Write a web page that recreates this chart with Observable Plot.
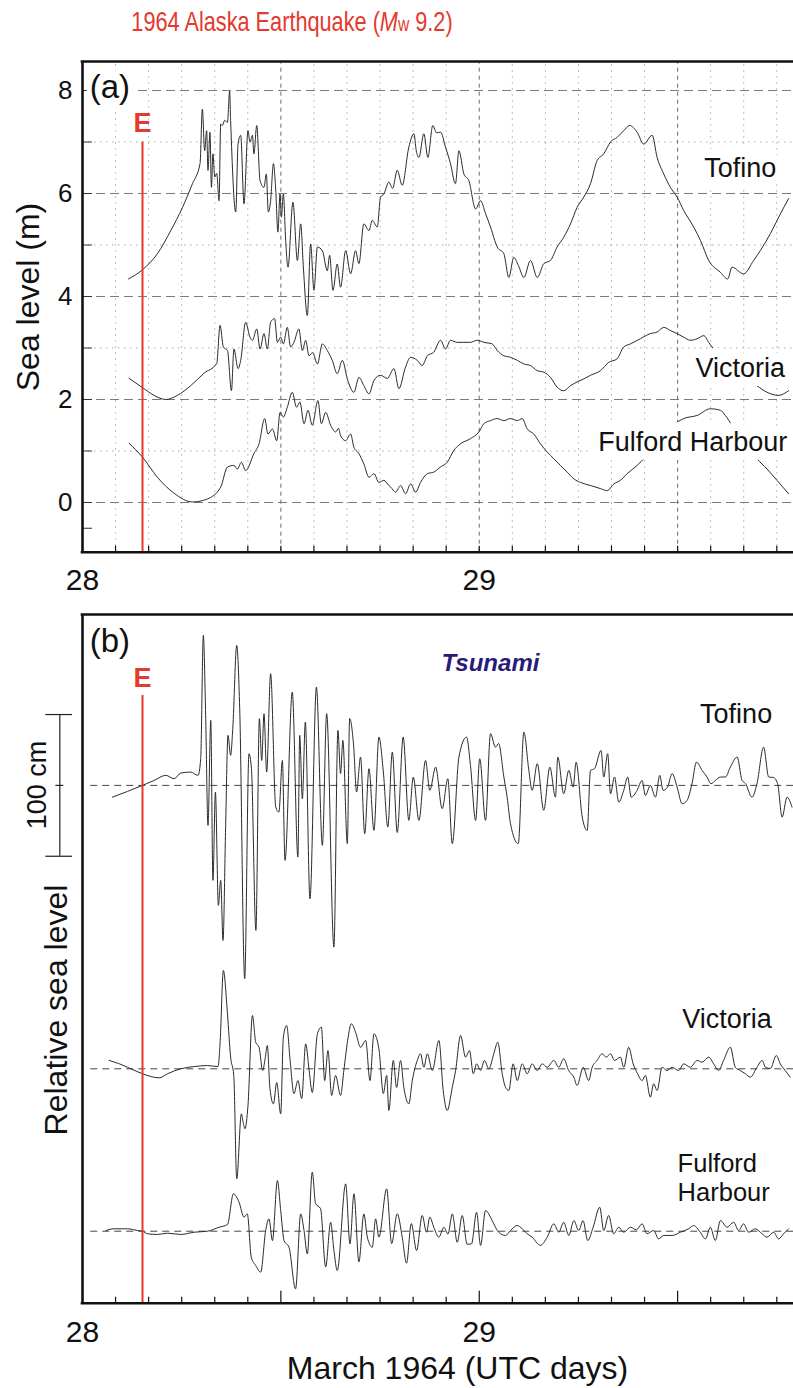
<!DOCTYPE html>
<html><head><meta charset="utf-8">
<script src="https://cdn.jsdelivr.net/npm/d3@7"></script>
<script src="https://cdn.jsdelivr.net/npm/@observablehq/plot@0.6"></script>
<style>
html,body{margin:0;padding:0;background:#fff;overflow:hidden}
#root{position:relative;width:793px;height:1388px;font-family:"Liberation Sans",Arial,Helvetica,sans-serif;color:#111}
.abs{position:absolute;white-space:nowrap}
.rot{transform:translate(-50%,-50%) rotate(-90deg)}
.ctr{transform:translate(-50%,-50%)}
</style></head><body><div id="root"></div>
<script>
// ---------- DATA (time in hours after 28 March 1964 00:00 UTC) ----------
const dayTicks = [0, 24];
const dayLabels = ["28", "29"];
const quakeHour = 3.63;            // E : earthquake time
const stations = ["Tofino", "Victoria", "Fulford Harbour"];

// (a) sea level, metres
const tofinoA = [[2.78,4.34],[3.63,4.52],[4.53,4.83],[5.34,5.28],[6.05,5.73],[6.65,6.19],[7.11,6.58],[7.25,7.64],[7.39,6.83],[7.51,7.22],[7.59,6.45],[7.71,7.19],[7.80,6.12],[7.89,6.77],[8.00,6.32],[8.12,6.39],[8.26,5.86],[8.36,7.35],[8.46,7.32],[8.60,7.42],[8.77,7.38],[8.90,7.99],[8.96,7.42],[9.27,5.64],[9.41,6.96],[9.57,7.13],[9.77,5.80],[10.01,7.22],[10.13,7.00],[10.28,7.13],[10.37,6.77],[10.54,7.32],[10.74,6.25],[10.98,6.12],[11.12,6.38],[11.24,5.64],[11.38,5.86],[11.55,6.58],[11.69,6.06],[11.82,5.25],[11.95,5.99],[12.03,5.54],[12.15,5.99],[12.29,5.09],[12.43,4.57],[12.73,5.83],[13.00,4.70],[13.20,5.41],[13.36,4.57],[13.60,3.63],[13.80,5.02],[14.00,4.12],[14.21,4.96],[14.51,4.89],[14.81,4.50],[14.95,4.80],[15.15,4.12],[15.41,4.63],[15.61,4.18],[15.92,4.89],[16.22,4.44],[16.52,4.89],[16.72,4.64],[17.02,5.41],[17.33,5.28],[17.53,5.48],[17.83,5.35],[18.03,5.93],[18.23,5.99],[18.53,6.22],[18.76,6.10],[19.04,6.45],[19.34,6.16],[19.74,6.90],[20.05,7.16],[20.19,6.83],[20.35,6.70],[20.65,7.16],[20.89,6.70],[21.19,7.32],[21.42,7.18],[21.66,7.19],[21.96,6.90],[22.26,6.58],[22.56,6.19],[22.77,6.83],[23.07,6.38],[23.37,6.25],[23.78,5.70],[24.08,5.86],[24.38,5.61],[24.68,5.35],[25.09,4.96],[25.49,4.83],[25.79,4.37],[26.09,4.76],[26.37,4.60],[26.70,4.37],[27.10,4.70],[27.51,4.37],[27.91,4.64],[28.31,4.70],[28.71,4.96],[29.11,5.15],[29.52,5.41],[29.92,5.73],[30.32,5.93],[30.73,6.19],[31.13,6.64],[31.53,6.77],[31.94,7.00],[32.34,7.09],[32.74,7.22],[33.10,7.32],[33.55,7.19],[33.95,6.96],[34.46,7.13],[34.76,6.70],[35.16,6.38],[35.56,6.12],[35.97,5.93],[36.37,5.67],[36.97,5.35],[37.38,5.09],[37.88,4.70],[38.59,4.47],[39.03,4.34],[39.29,4.57],[39.99,4.44],[40.60,4.70],[41.00,4.89],[41.61,5.22],[42.21,5.60],[42.71,5.90]];

const victoriaA = [[2.82,2.41],[3.63,2.23],[4.33,2.08],[5.04,2.00],[5.74,2.08],[6.55,2.27],[7.35,2.51],[8.12,2.70],[8.32,3.44],[8.52,3.02],[8.77,2.95],[9.01,2.17],[9.16,2.98],[9.41,2.60],[9.57,2.76],[9.87,3.50],[10.13,3.21],[10.28,3.15],[10.54,3.37],[10.74,2.98],[10.98,3.28],[11.18,2.98],[11.38,3.50],[11.62,3.57],[11.79,3.11],[11.99,3.21],[12.15,3.08],[12.39,3.40],[12.59,3.02],[12.79,3.11],[13.09,3.37],[13.30,2.95],[13.50,3.15],[13.70,2.85],[13.92,2.91],[14.21,2.69],[14.51,3.08],[14.81,2.95],[15.11,2.76],[15.41,2.50],[15.72,2.76],[16.02,2.40],[16.42,2.14],[16.72,2.43],[17.02,2.27],[17.33,2.11],[17.63,2.37],[18.03,2.47],[18.44,2.41],[18.84,2.60],[19.14,2.21],[19.54,2.63],[19.85,2.82],[20.25,2.76],[20.55,2.66],[20.86,2.85],[21.25,2.92],[21.66,3.15],[21.96,2.98],[22.26,3.15],[22.67,3.11],[23.07,3.11],[23.47,3.11],[23.88,3.15],[24.28,3.11],[24.78,3.08],[25.09,2.95],[25.49,2.85],[25.89,2.82],[26.30,2.76],[26.70,2.69],[27.10,2.66],[27.51,2.56],[27.91,2.53],[28.31,2.43],[28.71,2.24],[29.11,2.17],[29.52,2.27],[29.92,2.34],[30.32,2.40],[30.73,2.47],[31.33,2.56],[31.83,2.72],[32.34,2.79],[32.74,3.02],[33.15,3.08],[33.75,3.18],[34.35,3.28],[34.76,3.31],[35.16,3.40],[35.56,3.34],[35.97,3.28],[36.37,3.21],[36.77,3.15],[37.18,3.18],[37.58,3.24],[37.88,3.11],[38.18,2.98],[38.59,2.89],[39.70,2.60],[40.80,2.27],[41.41,2.14],[42.11,2.08],[42.71,2.17]];

const fulfordA = [[2.82,1.15],[3.63,0.88],[4.53,0.49],[5.54,0.18],[6.65,0.01],[7.56,0.07],[8.36,0.30],[8.77,0.69],[9.16,0.72],[9.37,0.65],[9.61,0.78],[9.87,0.62],[10.37,0.95],[10.68,1.14],[11.02,1.63],[11.22,1.33],[11.49,1.43],[11.75,1.20],[11.95,1.75],[12.15,1.66],[12.39,1.85],[12.69,2.14],[12.95,1.85],[13.15,1.95],[13.40,1.53],[13.64,1.79],[13.90,1.50],[14.24,1.98],[14.45,1.53],[14.71,1.75],[15.01,1.50],[15.31,1.37],[15.49,1.44],[15.61,1.30],[15.92,1.20],[16.22,1.33],[16.42,1.07],[16.72,0.95],[17.02,0.75],[17.33,0.49],[17.63,0.56],[17.93,0.39],[18.23,0.43],[18.53,0.33],[18.64,0.30],[18.94,0.20],[19.24,0.33],[19.54,0.17],[19.85,0.36],[20.15,0.20],[20.45,0.39],[20.86,0.56],[21.25,0.59],[21.66,0.69],[22.06,0.78],[22.46,1.01],[22.87,1.14],[23.47,1.24],[23.98,1.37],[24.28,1.53],[24.68,1.59],[25.09,1.63],[25.49,1.59],[25.89,1.63],[26.30,1.59],[26.60,1.63],[26.90,1.43],[27.30,1.33],[27.70,1.14],[28.11,0.98],[28.51,0.85],[28.91,0.72],[29.32,0.59],[29.72,0.46],[30.12,0.39],[30.73,0.33],[31.33,0.27],[31.74,0.23],[32.14,0.36],[32.54,0.43],[32.95,0.56],[33.55,0.72],[34.05,0.88],[34.96,1.20],[35.73,1.50],[36.37,1.63],[37.18,1.69],[37.98,1.82],[38.59,1.79],[38.89,1.69],[39.29,1.50],[40.10,1.17],[40.80,0.85],[41.41,0.65],[42.01,0.43],[42.71,0.17]];

// (b) tsunami signal, cm relative to each station's baseline
const tofinoB = [[1.81,-8.3],[3.63,0],[4.33,3.5],[5.04,7.1],[5.54,4.7],[5.94,8.7],[6.55,9.4],[6.99,7.1],[7.15,18.8],[7.31,105.9],[7.45,49.4],[7.59,-28.2],[7.76,45.9],[7.89,-67.0],[8.04,-4.7],[8.22,-84.7],[8.36,-67.0],[8.50,-109.4],[8.66,-28.2],[8.80,35.3],[8.96,21.2],[9.09,40.0],[9.33,98.8],[9.51,54.1],[9.81,-136.4],[10.07,22.4],[10.22,11.8],[10.49,-102.3],[10.70,47.1],[10.84,17.6],[10.98,50.6],[11.14,9.4],[11.38,78.8],[11.69,-15.3],[11.88,-18.8],[12.09,17.6],[12.25,-52.9],[12.69,65.8],[13.03,-50.6],[13.14,35.3],[13.30,-9.4],[13.48,44.7],[13.76,-80.0],[14.15,69.4],[14.51,-42.3],[14.77,50.6],[15.21,-114.1],[15.45,38.8],[15.61,8.3],[15.75,31.8],[16.02,-41.1],[16.16,47.1],[16.40,28.2],[16.58,-4.7],[16.82,20.0],[17.07,-34.1],[17.33,11.8],[17.63,-31.8],[17.93,34.1],[18.20,9.4],[18.47,-29.4],[18.74,23.5],[19.04,-33.2],[19.40,34.1],[19.74,-24.7],[20.01,5.9],[20.35,-24.7],[20.75,17.6],[21.01,-3.5],[21.36,12.9],[21.76,-16.4],[22.10,4.7],[22.37,-41.1],[22.77,20.0],[23.23,34.1],[23.47,14.1],[23.78,-24.7],[24.03,18.8],[24.38,-24.7],[24.68,36.5],[24.98,27.0],[25.17,29.6],[25.49,5.9],[25.69,-8.5],[25.89,-27.0],[26.36,-41.1],[26.70,37.6],[27.00,10.6],[27.20,-3.5],[27.51,15.3],[27.90,-17.6],[28.27,12.9],[28.61,-8.3],[28.75,20.0],[29.11,-5.9],[29.42,10.6],[29.68,-1.2],[29.86,16.4],[30.23,-22.4],[30.53,-31.8],[30.73,10.6],[30.97,11.8],[31.37,24.7],[31.53,5.9],[31.77,22.4],[31.94,-5.9],[32.18,5.9],[32.44,-11.8],[32.74,-3.5],[32.98,5.9],[33.19,-8.3],[33.55,-3.5],[33.85,3.5],[34.05,-7.1],[34.35,0],[34.66,-8.3],[34.92,7.1],[35.12,-3.5],[35.38,-1.4],[35.67,8.3],[35.97,-1.2],[36.27,-12.9],[36.57,-10.6],[36.87,1.2],[37.14,16.4],[37.48,10.6],[37.78,5.9],[38.02,1.2],[38.28,3.5],[38.59,5.9],[38.89,5.9],[39.19,12.9],[39.60,20.0],[39.90,3.5],[40.10,1.4],[40.50,-8.3],[40.80,1.2],[41.20,27.0],[41.51,5.9],[41.79,5.6],[42.05,1.2],[42.32,-22.4],[42.62,-8.3],[42.92,-15.3]];

const victoriaB = [[1.61,5.9],[2.19,3.7],[2.72,1.1],[3.63,-3.5],[4.13,-5.4],[4.63,-6.4],[5.14,-3.5],[5.94,0],[6.75,1.6],[7.56,2.3],[8.20,1.6],[8.33,20.0],[8.52,69.4],[8.77,38.8],[8.96,8.2],[9.15,-4.7],[9.33,-77.6],[9.61,-31.8],[9.72,-37.9],[9.83,-42.3],[10.01,-25.9],[10.28,37.6],[10.48,18.6],[10.68,15.2],[10.90,-1.2],[11.05,7.3],[11.18,16.4],[11.34,-14.1],[11.55,-24.7],[11.75,-9.7],[11.99,-31.8],[12.15,22.3],[12.35,30.6],[12.56,5.9],[12.79,-17.6],[13.03,-8.3],[13.26,-21.0],[13.50,17.6],[13.71,-1.2],[13.90,-16.7],[14.21,24.7],[14.45,29.4],[14.65,-8.3],[14.85,12.9],[15.07,-18.8],[15.31,-4.7],[15.61,-18.8],[15.81,-1.2],[16.04,20.0],[16.26,31.8],[16.52,25.8],[16.82,15.2],[17.13,20.0],[17.39,-8.3],[17.63,24.7],[17.93,14.1],[18.20,-17.4],[18.40,-4.7],[18.53,-29.4],[18.80,5.9],[19.00,-13.2],[19.24,5.9],[19.44,-13.2],[19.74,-24.7],[19.95,-8.3],[20.25,5.9],[20.45,10.6],[20.65,1.1],[20.86,10.6],[21.16,-1.2],[21.56,20.0],[21.82,-15.3],[22.06,-29.4],[22.37,-13.0],[22.57,-1.2],[22.87,23.5],[23.17,8.2],[23.41,12.9],[23.64,-3.5],[23.84,3.5],[24.08,-1.2],[24.32,5.9],[24.58,0],[24.88,10.6],[25.12,18.8],[25.39,-3.5],[25.59,-13.0],[25.79,-15.3],[26.05,3.5],[26.30,-8.3],[26.60,3.5],[26.90,-3.5],[27.20,3.5],[27.50,-1.2],[27.81,3.5],[28.11,1.1],[28.51,5.9],[28.81,1.1],[29.11,7.1],[29.41,-1.2],[29.72,-5.9],[29.92,-11.8],[30.29,1.1],[30.62,-8.3],[30.83,1.1],[31.13,5.9],[31.43,10.6],[31.69,8.2],[31.94,10.6],[32.18,5.9],[32.54,8.2],[32.74,1.1],[33.04,15.2],[33.31,3.5],[33.58,-3.5],[33.85,-8.3],[34.05,-4.7],[34.35,-20.0],[34.55,-10.6],[34.76,-15.3],[35.06,1.1],[35.36,-1.2],[35.67,1.1],[36.06,-1.2],[36.37,3.5],[36.77,1.1],[37.18,5.9],[37.48,4.7],[37.88,8.2],[38.18,3.5],[38.48,-1.2],[38.78,5.9],[39.19,15.2],[39.49,1.1],[39.79,-1.2],[40.10,-3.5],[40.40,-5.9],[40.80,1.1],[41.11,5.9],[41.31,1.1],[41.61,0.2],[41.97,9.4],[42.21,3.5],[42.51,-1.2],[42.81,-5.9]];

const fulfordB = [[1.41,0.5],[1.91,1.7],[2.72,1.7],[3.32,0.5],[3.63,0],[3.93,-1.8],[4.53,-2.3],[5.14,-1.4],[5.94,-2.3],[6.75,-0.7],[7.56,0],[8.26,2.8],[8.77,4.7],[9.13,26.4],[9.47,20.5],[9.77,9.9],[9.97,12.2],[10.21,-18.4],[10.48,-24.2],[10.78,-28.9],[11.08,0.5],[11.28,8.7],[11.49,-6.6],[11.79,35.8],[11.99,14.6],[12.19,-6.6],[12.49,-11.3],[12.89,-40.7],[13.20,12.2],[13.40,0.5],[13.60,-16.0],[13.90,41.7],[14.10,19.5],[14.40,15.9],[14.71,-25.2],[15.01,6.3],[15.21,-13.6],[15.41,-27.7],[15.92,33.4],[16.18,-8.9],[16.42,26.4],[16.72,-21.6],[17.02,12.2],[17.23,-4.2],[17.53,-11.3],[17.73,8.7],[17.93,-4.2],[18.40,29.9],[18.70,-8.7],[19.04,12.3],[19.34,-4.2],[19.60,-22.6],[19.89,5.4],[20.21,-13.6],[20.55,11.1],[20.81,-0.7],[21.01,9.9],[21.25,2.8],[21.56,-4.2],[21.86,2.8],[22.11,-2.0],[22.37,12.2],[22.67,-7.8],[22.97,11.1],[23.27,-9.2],[23.53,-9.0],[23.84,13.4],[24.08,-10.0],[24.38,14.6],[24.68,9.9],[24.88,5.2],[25.18,-0.7],[25.59,-3.0],[25.89,0.5],[26.29,4.0],[26.60,1.7],[26.90,-1.8],[27.20,-4.2],[27.70,-10.0],[28.11,-4.2],[28.51,5.2],[28.81,-0.7],[29.11,6.3],[29.42,-3.0],[29.72,7.5],[30.02,0.5],[30.28,7.5],[30.56,-6.6],[30.89,2.8],[31.29,16.9],[31.53,0.5],[31.83,11.1],[32.13,-1.8],[32.44,2.8],[32.74,-0.7],[33.15,2.8],[33.51,1.0],[33.85,5.2],[34.15,-1.8],[34.55,0.5],[34.85,-5.4],[35.16,-3.0],[35.67,-3.0],[36.17,-0.7],[36.67,1.7],[36.97,4.0],[37.37,-0.7],[37.68,-5.4],[37.98,2.8],[38.28,-6.6],[38.59,7.5],[38.99,2.8],[39.39,6.3],[39.69,0.5],[39.99,5.2],[40.30,-0.7],[40.70,1.7],[41.11,-1.8],[41.41,-4.2],[41.81,-0.7],[42.11,-5.4],[42.41,-1.8],[42.71,1.7]];

// stacking offsets of panel (b) baselines (cm) and the 100 cm scale bar
const offsetsB = [365.4, 165.4, 50.8];
const scaleBarCm = 100;

// ---------- LAYOUT / STYLE ----------
const FONT = '"Liberation Sans", Arial, Helvetica, sans-serif';
const RED = "#e4392e";
const TRACE = "#2b2b2b";
const xDomain = [0, 43.01];
const minorHours = d3.range(2, 43, 2).filter(h => h % 12 !== 0);
const majorHours = [12, 24, 36];
const allHours = d3.range(2, 43, 2);
const root = document.getElementById("root");

function place(el, top) {
  el.style.position = "absolute"; el.style.left = "0px"; el.style.top = top + "px";
  el.style.maxWidth = "none"; el.style.background = "transparent";
  root.appendChild(el);
}

// ---------- PANEL (a) ----------
const yA = [-0.965, 8.563];
const topA = 61, botA = 551.7, hA = 600;
const plotHA = botA - topA, plotW = 793 - 82;
const labelsA = [
  {t: "Tofino", h: 39.79, v: 6.49},
  {t: "Victoria", h: 39.79, v: 2.61},
  {t: "Fulford Harbour", h: 36.92, v: 1.17}
];
const panelA = Plot.plot({
  width: 793, height: hA, marginLeft: 82, marginRight: 0, marginTop: topA, marginBottom: hA - botA,
  x: {domain: xDomain, axis: null}, y: {domain: yA, axis: null},
  style: {fontFamily: FONT, background: "transparent", overflow: "visible"},
  marks: [
    Plot.ruleY([1, 3, 5, 7], {stroke: "#aaa", strokeDasharray: "1.5,4.5"}),
    Plot.ruleX(minorHours, {y1: yA[0], y2: yA[1], stroke: "#aaa", strokeDasharray: "1.5,4.5"}),
    Plot.ruleY([0, 2, 4, 6, 8], {stroke: "#7a7a7a", strokeDasharray: "9,5"}),
    Plot.ruleX(majorHours, {y1: yA[0], y2: yA[1], stroke: "#6a6a6a", strokeDasharray: "4,4"}),
    Plot.tickX(allHours, {x: d => d, insetTop: plotHA - 6, stroke: "#111", strokeWidth: 1.2}),
    Plot.tickY([-0.5, 0, 1, 2, 3, 4, 5, 6, 7, 8], {y: d => d, insetRight: plotW - 10, stroke: "#333", strokeWidth: 1}),
    Plot.line(tofinoA, {x: d => d[0], y: d => d[1], stroke: TRACE, strokeWidth: 1, curve: "monotone-x"}),
    Plot.line(victoriaA, {x: d => d[0], y: d => d[1], stroke: TRACE, strokeWidth: 1, curve: "monotone-x"}),
    Plot.line(fulfordA, {x: d => d[0], y: d => d[1], stroke: TRACE, strokeWidth: 1, curve: "monotone-x"}),
    Plot.ruleX([quakeHour], {y1: 7.0, y2: yA[0], stroke: RED, strokeWidth: 2}),
    Plot.text(labelsA, {x: "h", y: "v", text: "t", fontSize: 27, fill: "#111", stroke: "white", strokeWidth: 18, strokeLinejoin: "round", paintOrder: "stroke"}),
    Plot.text(["(a)"], {x: 0.44, y: 8.05, text: d => d, textAnchor: "start", fontSize: 33, fill: "#111", stroke: "white", strokeWidth: 10, paintOrder: "stroke"}),
    Plot.text(["E"], {x: quakeHour, y: 7.36, text: d => d, fontSize: 27, fontWeight: "bold", fill: RED}),
    Plot.ruleX([0], {y1: yA[0], y2: yA[1], stroke: "#111", strokeWidth: 2.6}),
    Plot.ruleY([yA[0], yA[1]], {x1: -0.08, x2: xDomain[1], stroke: "#111", strokeWidth: 2.6}),
    Plot.text([0, 2, 4, 6, 8], {y: d => d, text: d => String(d), frameAnchor: "left", dx: -10, textAnchor: "end", fontSize: 26, fill: "#111"}),
    Plot.text(dayTicks, {x: d => d, text: (d, i) => dayLabels[i], frameAnchor: "bottom", lineAnchor: "top", dy: 16, fontSize: 30, fill: "#111"})
  ]
});
place(panelA, 0);

// ---------- PANEL (b) ----------
const topBpage = 600;
const yB = [0, 486.0];
const topB = 14, botB = 702.7, hB = 788;
const plotHB = botB - topB;
const seriesB = [tofinoB, victoriaB, fulfordB];
const linesB = seriesB.map((s, k) => s.map(([h, c]) => ({h, y: offsetsB[k] + c})));
const labelsB = [
  {t: "Tofino", h: 39.54, v: 415.5},
  {t: "Victoria", h: 38.99, v: 200.2}
];
const labelsB2 = [
  {t: "Fulford", h: 36.0, v: 98.2},
  {t: "Harbour", h: 36.0, v: 77.7}
];
const barX = -1.372, half = scaleBarCm / 2;
const panelB = Plot.plot({
  width: 793, height: hB, marginLeft: 82, marginRight: 0, marginTop: topB, marginBottom: hB - botB,
  x: {domain: xDomain, axis: null}, y: {domain: yB, axis: null},
  style: {fontFamily: FONT, background: "transparent", overflow: "visible"},
  marks: [
    Plot.ruleY(offsetsB, {x1: 0.5, x2: xDomain[1], stroke: "#444", strokeDasharray: "7,5", strokeWidth: 1}),
    Plot.tickX(minorHours, {x: d => d, insetTop: plotHB - 6, stroke: "#111", strokeWidth: 1.2}),
    Plot.tickX(majorHours, {x: d => d, insetTop: plotHB - 12, stroke: "#111", strokeWidth: 1.2}),
    ...linesB.map(s => Plot.line(s, {x: "h", y: "y", stroke: TRACE, strokeWidth: 1, curve: "monotone-x"})),
    Plot.ruleX([quakeHour], {y1: 428.9, y2: yB[0], stroke: RED, strokeWidth: 2}),
    Plot.text(labelsB, {x: "h", y: "v", text: "t", fontSize: 27, fill: "#111"}),
    Plot.text(labelsB2, {x: "h", y: "v", text: "t", textAnchor: "start", fontSize: 25.5, fill: "#111"}),
    Plot.text(["Tsunami"], {x: 24.68, y: 451.4, text: d => d, fontSize: 24, fontWeight: "bold", fontStyle: "italic", fill: "#2a1b78"}),
    Plot.text(["(b)"], {x: 0.44, y: 467.0, text: d => d, textAnchor: "start", fontSize: 33, fill: "#111"}),
    Plot.text(["E"], {x: quakeHour, y: 440.9, text: d => d, fontSize: 27, fontWeight: "bold", fill: RED}),
    // 100 cm scale bar (left of the frame)
    Plot.ruleX([barX], {y1: offsetsB[0] - half, y2: offsetsB[0] + half, stroke: "#222", strokeWidth: 1.2}),
    Plot.ruleY([offsetsB[0] - half, offsetsB[0] + half], {x1: -2.22, x2: -0.60, stroke: "#222", strokeWidth: 1.2}),
    Plot.ruleY([offsetsB[0]], {x1: -1.61, x2: -1.13, stroke: "#222", strokeWidth: 1.2}),
    Plot.ruleX([0], {y1: yB[0], y2: yB[1], stroke: "#111", strokeWidth: 2.6}),
    Plot.ruleY([yB[0], yB[1]], {x1: -0.08, x2: xDomain[1], stroke: "#111", strokeWidth: 2.6}),
    Plot.text(dayTicks, {x: d => d, text: (d, i) => dayLabels[i], frameAnchor: "bottom", lineAnchor: "top", dy: 17, fontSize: 30, fill: "#111"})
  ]
});
place(panelB, topBpage);

// ---------- HTML TEXT ----------
function addText(html, css, cls) {
  const d = document.createElement("div");
  d.className = "abs " + (cls || "");
  d.innerHTML = html;
  Object.assign(d.style, css);
  root.appendChild(d);
  return d;
}
addText('<span style="display:inline-block;transform:scaleX(0.775);transform-origin:50% 50%">1964 Alaska Earthquake (<i>M</i><span style="font-size:0.72em">w</span> 9.2)</span>',
  {left: "291.5px", top: "22px", fontSize: "28px", color: RED}, "ctr");
addText("Sea level (m)", {left: "28px", top: "297px", fontSize: "32px"}, "rot");
addText("100 cm", {left: "37px", top: "785px", fontSize: "27px"}, "rot");
addText("Relative sea level", {left: "56px", top: "1010px", fontSize: "32px"}, "rot");
addText("March 1964 (UTC days)", {left: "457.5px", top: "1368px", fontSize: "32px"}, "ctr");
</script></body></html>
